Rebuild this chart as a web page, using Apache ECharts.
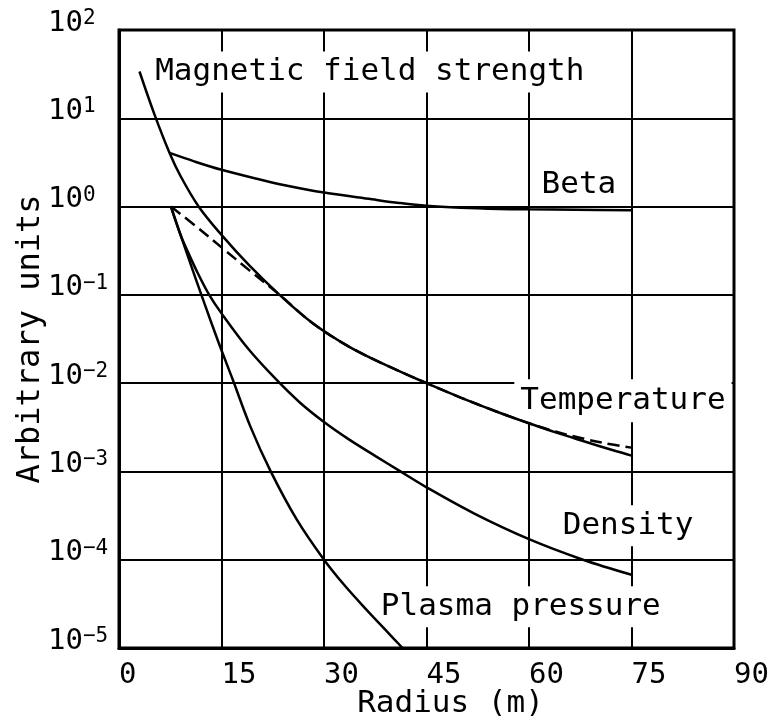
<!DOCTYPE html>
<html>
<head>
<meta charset="utf-8">
<script src="https://cdn.jsdelivr.net/npm/echarts@6/dist/echarts.min.js"></script>
<style>
  html, body { margin: 0; padding: 0; background: #fff; }
  #chart { width: 777px; height: 728px; }
</style>
</head>
<body>
<div id="chart"></div>
<script>
// Radial profiles of a plasma column, log scale, arbitrary units.
const xTicks = [0, 15, 30, 45, 60, 75, 90];

const radiusMagnetic = [3, 5.2, 7.4, 9, 11.7, 15, 19.1, 23.5, 28.3, 33.7, 39, 45, 50, 55.7, 60, 64, 67.9, 72.8, 75];
const magneticField  = [33.9, 11.0, 4.05, 2.22, 0.99, 0.478, 0.214, 0.10, 0.048, 0.0258, 0.0161, 0.010, 0.00687, 0.00462, 0.00351, 0.00275, 0.00221, 0.00169, 0.00151];

const radiusTemperature = [7.6, 11.2, 15, 19, 23.5, 28.3, 33.7, 39, 45, 50, 55.7, 60, 64, 67.9, 70.8, 75];
const temperature       = [1.0, 0.604, 0.345, 0.192, 0.10, 0.048, 0.0258, 0.0161, 0.010, 0.00687, 0.00462, 0.00351, 0.00281, 0.00236, 0.00211, 0.00186];

const radiusBeta = [7.4, 11, 15, 20.5, 23.9, 30, 37, 41, 45, 50, 55.7, 60, 67, 75];
const beta       = [4.05, 3.25, 2.61, 2.04, 1.77, 1.44, 1.21, 1.1, 1.02, 0.97, 0.94, 0.93, 0.92, 0.91];

const radiusDensity = [7.6, 9, 10, 11.5, 13.2, 15, 19, 23, 26.5, 30, 33.7, 37.6, 41, 45, 52, 60, 67.9, 75];
const density       = [1.0, 0.479, 0.316, 0.178, 0.1, 0.0617, 0.024, 0.011, 0.006, 0.00363, 0.00229, 0.00148, 0.00102, 0.000661, 0.000333, 0.000171, 0.0001, 0.0000676];

const radiusPressure = [7.6, 10, 12.5, 14.6, 16.6, 19.2, 22.2, 26, 30, 33, 36.2, 39, 41.5];
const pressure       = [1.0, 0.285, 0.080, 0.0285, 0.0112, 0.00326, 0.001, 0.000286, 0.0001, 0.0000513, 0.0000272, 0.000016, 0.00001];

// Curve captions, anchored at their centre in data space.
const captions = [
  { text: 'Magnetic field strength', at: [36.7, 33.5],   pad: [5, 10], knockout: true },
  { text: 'Beta',                    at: [67.3, 1.76],   pad: [2, 2],  knockout: false },
  { text: 'Temperature',             at: [73.75, 6.3e-3], pad: [6, 6], knockout: true },
  { text: 'Density',                 at: [74.5, 2.43e-4], pad: [5, 8], knockout: true },
  { text: 'Plasma pressure',         at: [58.8, 2.94e-5], pad: [5, 6], knockout: true }
];

const FONT = "'DejaVu Sans Mono', 'Liberation Mono', monospace";
const INK = '#000';

function pairs(xs, ys) { return xs.map((x, i) => [x, ys[i]]); }

function curve(name, xs, ys, dashed) {
  return {
    name: name,
    type: 'line',
    data: pairs(xs, ys),
    showSymbol: false,
    smooth: 0.35,
    clip: true,
    lineStyle: { color: INK, width: 2.5, type: dashed ? [12, 6] : 'solid' },
    z: 2
  };
}

const chart = echarts.init(document.getElementById('chart'), null, { renderer: 'canvas' });

chart.setOption({
  animation: false,
  backgroundColor: '#fff',
  grid: {
    left: 119, right: 43, top: 30, bottom: 80,
    show: true, borderColor: INK, borderWidth: 3, backgroundColor: 'transparent'
  },
  xAxis: {
    type: 'value',
    min: xTicks[0], max: xTicks[xTicks.length - 1], interval: xTicks[1] - xTicks[0],
    name: 'Radius (m)',
    nameLocation: 'middle',
    nameGap: 40,
    nameMoveOverlap: false,
    nameTextStyle: { fontFamily: FONT, fontSize: 31, color: INK, padding: [0, 0, 0, 48] },
    axisLine: { show: true, lineStyle: { color: INK, width: 3 } },
    axisTick: { show: false },
    axisLabel: { fontFamily: FONT, fontSize: 29, color: INK, align: 'left', margin: 13, showMaxLabel: true, showMinLabel: true },
    splitLine: { show: true, lineStyle: { color: INK, width: 2 } }
  },
  yAxis: {
    type: 'log',
    logBase: 10,
    min: 1e-5, max: 100,
    name: 'Arbitrary units',
    nameLocation: 'middle',
    nameGap: 72,
    nameMoveOverlap: false,
    nameTextStyle: { fontFamily: FONT, fontSize: 32, color: INK },
    axisLine: { show: true, lineStyle: { color: INK, width: 3 } },
    axisTick: { show: false },
    axisLabel: {
      align: 'left',
      margin: 71,
      padding: [0, 0, 14, 0],
      formatter: function (v) {
        const e = Math.round(Math.log10(v));
        const s = e < 0 ? '\u2212' + (-e) : String(e);
        return '{b|10}{e|' + s + '}';
      },
      rich: {
        b: { fontFamily: FONT, fontSize: 29, color: INK, lineHeight: 30 },
        e: { fontFamily: FONT, fontSize: 21, color: INK, verticalAlign: 'top', lineHeight: 30 }
      }
    },
    splitLine: { show: true, lineStyle: { color: INK, width: 2 } }
  },
  series: [
    curve('Magnetic field strength', radiusMagnetic, magneticField, false),
    curve('Temperature', radiusTemperature, temperature, true),
    curve('Beta', radiusBeta, beta, false),
    curve('Density', radiusDensity, density, false),
    curve('Plasma pressure', radiusPressure, pressure, false)
  ]
});

// Captions sit on white boxes that interrupt the grid lines behind them.
const graphics = captions.map(function (c) {
  const p = chart.convertToPixel({ xAxisIndex: 0, yAxisIndex: 0 }, c.at);
  return {
    type: 'text',
    x: p[0], y: p[1],
    z: 1,
    style: {
      text: c.text,
      font: '31px ' + FONT,
      fill: INK,
      align: 'center',
      verticalAlign: 'middle',
      backgroundColor: c.knockout ? '#fff' : 'transparent',
      padding: c.pad
    }
  };
});
chart.setOption({ graphic: graphics });
</script>
</body>
</html>
